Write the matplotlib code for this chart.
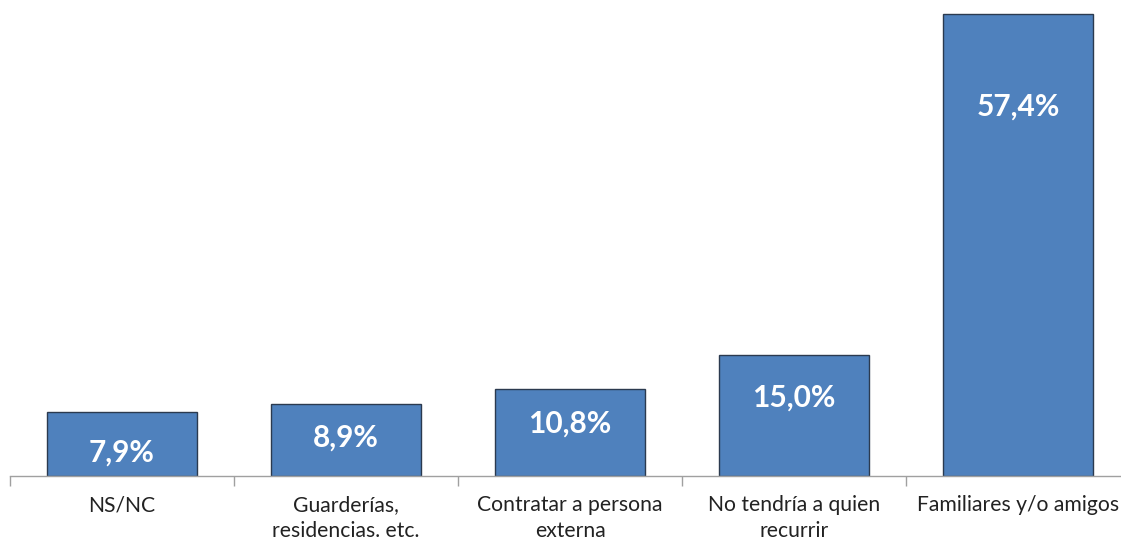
import matplotlib.pyplot as plt

categories = ['NS/NC', 'Guarderías,\nresidencias. etc.', 'Contratar a persona\nexterna',
              'No tendría a quien\nrecurrir', 'Familiares y/o amigos']
values = [7.9, 8.9, 10.8, 15.0, 57.4]
value_labels = ['7,9%', '8,9%', '10,8%', '15,0%', '57,4%']

# label offset below bar top, in pixels
label_drop = [40, 33, 35, 42, 93]

plt.rcParams['font.family'] = ['Lato', 'DejaVu Sans']

fig = plt.figure(figsize=(11.21, 5.41), dpi=100)
W, H = 1121, 541
x0, x1 = 10, 1130
y_base = 476
px_per = (476 - 14) / 57.4
ymax = 60
ax = fig.add_axes([x0 / W, (H - y_base) / H, (x1 - x0) / W, ymax * px_per / H])

xs = range(len(values))
ax.bar(xs, values, width=150 / 224, color='#4F81BD', edgecolor='#2B3A4F', linewidth=1.0)
ax.set_xlim(-0.5, len(values) - 0.5)
ax.set_ylim(0, ymax)

for i, (v, lab, d) in enumerate(zip(values, value_labels, label_drop)):
    ax.annotate(lab, (i, v), xytext=(0, -d), textcoords='offset pixels',
                ha='center', va='center', color='white', fontsize=21.5, fontweight='bold')

for s in ['top', 'right', 'left']:
    ax.spines[s].set_visible(False)
ax.spines['bottom'].set_color('#A0A0A0')
ax.spines['bottom'].set_linewidth(1.0)
ax.set_yticks([])
ax.set_xticks([i - 0.5 for i in range(len(values) + 1)])
ax.set_xticklabels([])
ax.set_xticks(list(xs), minor=True)
ax.set_xticklabels(categories, minor=True, fontsize=15.2, color='#222222', linespacing=1.35)
ax.tick_params(axis='x', which='major', length=7, color='#A0A0A0', width=1.0)
ax.tick_params(axis='x', which='minor', length=0, pad=14)

fig.savefig('out.png', dpi=100)
